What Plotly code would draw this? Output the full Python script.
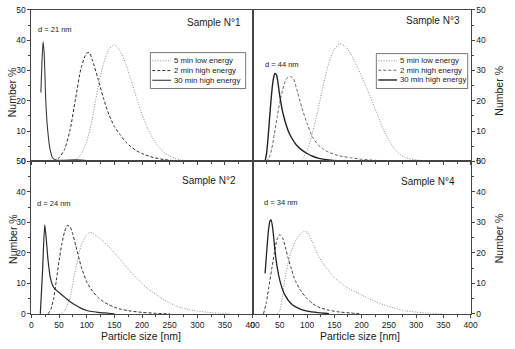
import plotly.graph_objects as go

# ---------------- data ----------------
# Sample N°1
s1_low_x = [70, 80, 90, 100, 110, 120, 130, 140, 150, 160, 170, 180, 190, 200, 210, 220, 230, 240, 250, 260, 270, 280, 300]
s1_low_y = [0, 0.5, 2.5, 6.5, 14, 24, 32, 37, 38.5, 36.5, 32.5, 27, 21, 15.5, 11, 7.5, 4.8, 3, 1.8, 1, 0.5, 0.2, 0]
s1_2min_x = [40, 50, 60, 70, 80, 90, 100, 105, 110, 120, 130, 140, 150, 160, 170, 180, 190, 200, 220, 240, 260, 280]
s1_2min_y = [0, 1.2, 4, 10.5, 21, 31, 35.8, 35.8, 33.5, 27.5, 21, 15.5, 11.5, 8.9, 6.5, 4.8, 3.5, 2.6, 1.3, 0.6, 0.2, 0]
s1_30min_x = [17, 19, 21, 23, 26, 29, 33, 38, 45, 60, 80, 100, 110]
s1_30min_y = [22.7, 33, 39.5, 35.5, 19.5, 11, 4.6, 1.2, 0.4, 0.4, 0.5, 0.3, 0]

# Sample N°3
s3_low_x = [80, 90, 100, 110, 120, 130, 140, 150, 160, 170, 180, 190, 200, 210, 220, 230, 240, 250, 260, 270, 280, 300, 320, 340]
s3_low_y = [0, 0.5, 3.5, 9.5, 17, 25.5, 32.5, 37, 38.8, 38, 35.5, 32, 28, 24, 19.5, 15, 10.5, 7, 4.2, 2.4, 1.3, 0.5, 0.2, 0]
s3_2min_x = [25, 30, 35, 40, 45, 50, 55, 60, 65, 70, 75, 80, 90, 100, 110, 120, 130, 140, 160, 180, 200, 220, 250]
s3_2min_y = [0, 1, 4, 9, 14.5, 19.5, 23.5, 26.5, 27.8, 28, 27.3, 24.5, 18, 12.5, 8, 5.5, 4, 3, 1.8, 1.2, 0.7, 0.4, 0.1]
s3_30min_x = [23, 26, 29, 32, 35, 38, 41, 44, 47, 50, 55, 60, 65, 70, 80, 90, 100, 110, 120, 140, 160, 180]
s3_30min_y = [0, 3, 9, 16, 22.5, 27, 29, 28.5, 25.5, 21.5, 16.5, 13, 10.3, 8.3, 5.5, 3.8, 2.6, 1.7, 1.1, 0.5, 0.2, 0]

# Sample N°2
s2_low_x = [50, 60, 70, 80, 90, 100, 105, 110, 120, 130, 140, 150, 160, 170, 180, 190, 200, 210, 220, 230, 240, 250, 260, 270, 280, 300, 320, 340, 360]
s2_low_y = [0, 1, 5.5, 15, 22.5, 26, 26.7, 26.5, 25.3, 23.8, 22, 20, 18, 15.8, 13.7, 11.8, 10, 8.3, 7, 5.8, 4.6, 3.6, 2.8, 2.1, 1.6, 0.9, 0.5, 0.2, 0]
s2_2min_x = [30, 35, 40, 45, 50, 55, 60, 65, 70, 75, 80, 90, 100, 110, 120, 130, 140, 150, 160, 180, 200, 225, 250]
s2_2min_y = [0, 1.5, 5, 11, 17.5, 23, 27, 29, 28.5, 26, 22.5, 15.5, 10.5, 7.5, 5.5, 4, 3, 2.2, 1.6, 0.9, 0.5, 0.2, 0]
s2_30min_x = [16, 20, 24, 27, 30, 34, 38, 42, 50, 60, 70, 80, 90, 100, 120, 140, 150]
s2_30min_y = [0, 14, 29.2, 24, 17.5, 12, 9.5, 8.3, 7, 5.5, 4, 2.8, 1.8, 1.1, 0.5, 0.2, 0]

# Sample N°4
s4_low_x = [45, 50, 55, 60, 70, 80, 90, 95, 100, 110, 120, 130, 140, 150, 160, 170, 180, 200, 220, 240, 260, 280, 300, 320, 350]
s4_low_y = [0, 1, 6, 12, 20, 24.3, 26.7, 27, 26.8, 23.5, 19.3, 16.3, 14, 12, 10.4, 9.1, 8, 6.2, 4.5, 3, 1.9, 1, 0.6, 0.3, 0]
s4_2min_x = [20, 25, 30, 35, 40, 45, 50, 55, 60, 65, 70, 75, 80, 90, 100, 110, 120, 140, 160, 180, 200]
s4_2min_y = [0, 3.5, 9, 14.5, 20, 24.5, 26, 25, 22, 18.5, 15.5, 12.5, 10.3, 7.2, 5, 3.4, 2.3, 1.2, 0.6, 0.3, 0]
s4_30min_x = [23, 26, 29, 32, 34, 37, 41, 45, 50, 55, 60, 70, 80, 90, 100, 120, 140]
s4_30min_y = [13.3, 20.5, 27, 30.5, 30.8, 28, 21, 15.5, 11, 8, 6, 3.5, 2.2, 1.4, 0.9, 0.4, 0.1]

series_names = ["5 min low energy", "2 min high energy", "30 min high energy"]
sample_labels = ["Sample N°1", "Sample N°3", "Sample N°2", "Sample N°4"]
d_labels = ["d = 21 nm", "d = 44 nm", "d = 24 nm", "d = 34 nm"]
x_ticks = [0, 50, 100, 150, 200, 250, 300, 350, 400]
y_ticks = [0, 10, 20, 30, 40, 50]

# ---------------- layout helpers ----------------
W, H = 515, 349
FONT = "Liberation Sans, Arial, sans-serif"
TXT = "#222222"


def fx(p):
    return p / W


def fy(p):
    return 1 - p / H


XL = [fx(30), fx(255)]
XR = [fx(255), fx(477)]
YT = [fy(161), fy(5)]
YB = [fy(318), fy(161)]

panels = [
    # (xaxis, yaxis, xdomain, ydomain, y side, show x labels, data, styles)
    ("x", "y", XL, YT, "left", False,
     [(s1_low_x, s1_low_y), (s1_2min_x, s1_2min_y), (s1_30min_x, s1_30min_y)],
     [("#8a8a8a", "1px,1.6px", 1.0), ("#2a2a2a", "3px,2px", 1.0), ("#3a3a3a", "solid", 1.1)]),
    ("x2", "y2", XR, YT, "right", False,
     [(s3_low_x, s3_low_y), (s3_2min_x, s3_2min_y), (s3_30min_x, s3_30min_y)],
     [("#8a8a8a", "1px,1.6px", 1.0), ("#666666", "3px,2px", 1.0), ("#222222", "solid", 1.4)]),
    ("x3", "y3", XL, YB, "left", True,
     [(s2_low_x, s2_low_y), (s2_2min_x, s2_2min_y), (s2_30min_x, s2_30min_y)],
     [("#8a8a8a", "1px,1.6px", 1.0), ("#2a2a2a", "3px,2px", 1.0), ("#2a2a2a", "solid", 1.2)]),
    ("x4", "y4", XR, YB, "right", True,
     [(s4_low_x, s4_low_y), (s4_2min_x, s4_2min_y), (s4_30min_x, s4_30min_y)],
     [("#8a8a8a", "1px,1.6px", 1.0), ("#3a3a3a", "3px,2px", 1.0), ("#222222", "solid", 1.3)]),
]

fig = go.Figure()
layout = dict(
    width=W, height=H,
    margin=dict(l=0, r=0, t=0, b=0),
    paper_bgcolor="white", plot_bgcolor="white",
    showlegend=False,
    font=dict(family=FONT, size=8, color=TXT),
)

for (xa, ya, xd, yd, side, xlab, data, styles) in panels:
    for (xs, ys), (col, dash, w), name in zip(data, styles, series_names):
        fig.add_trace(go.Scatter(
            x=xs, y=ys, mode="lines", name=name,
            line=dict(color=col, dash=dash, width=w, shape="spline", smoothing=0.6),
            xaxis=xa, yaxis=ya, hoverinfo="skip",
        ))
    xkey = "xaxis" + xa[1:]
    ykey = "yaxis" + ya[1:]
    layout[xkey] = dict(
        domain=xd, anchor=ya, range=[0, 400], tickvals=x_ticks,
        showticklabels=xlab, ticks="outside", ticklen=3, tickwidth=1, tickcolor="#444",
        minor=dict(dtick=25, tick0=0, ticks="outside", ticklen=2, tickcolor="#444"),
        showline=True, linecolor="#444", linewidth=1, mirror=True,
        showgrid=False, zeroline=False,
        tickfont=dict(size=8.5, color=TXT, family=FONT),
    )
    layout[ykey] = dict(
        domain=yd, anchor=xa, range=[0, 50], tickvals=y_ticks, side=side,
        ticks="outside", ticklen=3, tickwidth=1, tickcolor="#444",
        minor=dict(dtick=5, tick0=0, ticks="outside", ticklen=2, tickcolor="#444"),
        showline=True, linecolor="#444", linewidth=1, mirror=True,
        showgrid=False, zeroline=False,
        tickfont=dict(size=8.5, color=TXT, family=FONT),
    )

shapes = []
annotations = []

# sample labels and diameter notes
samp_pos = [(245, 18), (468, 16), (240, 181), (463, 182)]
d_pos = [(35, 25), (266, 61), (34, 204), (265, 203)]
for lab, (x, y) in zip(sample_labels, samp_pos):
    annotations.append(dict(text=lab, x=fx(x), y=fy(y), xref="paper", yref="paper",
                            xanchor="right", yanchor="middle", showarrow=False,
                            font=dict(size=10, color=TXT, family=FONT)))
for lab, (x, y) in zip(d_labels, d_pos):
    annotations.append(dict(text=lab, x=fx(x), y=fy(y), xref="paper", yref="paper",
                            xanchor="left", yanchor="middle", showarrow=False,
                            font=dict(size=7.5, color=TXT, family=FONT)))

# axis titles
for (x, y) in [(11, 90), (11, 241)]:
    annotations.append(dict(text="Number %", x=fx(x), y=fy(y), xref="paper", yref="paper",
                            textangle=-90, xanchor="center", yanchor="middle", showarrow=False,
                            font=dict(size=10.5, color=TXT, family=FONT)))
for (x, y) in [(506, 88), (506, 240)]:
    annotations.append(dict(text="Number %", x=fx(x), y=fy(y), xref="paper", yref="paper",
                            textangle=-90, xanchor="center", yanchor="middle", showarrow=False,
                            font=dict(size=10.5, color=TXT, family=FONT)))
for (x, y) in [(141, 341), (364, 341)]:
    annotations.append(dict(text="Particle size [nm]", x=fx(x), y=fy(y), xref="paper", yref="paper",
                            xanchor="center", yanchor="middle", showarrow=False,
                            font=dict(size=10.5, color=TXT, family=FONT)))

# hand-drawn legends (top panels)
legends = [
    dict(box=(151, 49, 248, 86), x0=153, x1=172, ys=[57.5, 67.5, 77.5], styles=panels[0][7]),
    dict(box=(381, 50, 474, 86), x0=383, x1=402, ys=[57.5, 67.2, 77.2], styles=panels[1][7]),
]
for lg in legends:
    bx0, by0, bx1, by1 = lg["box"]
    shapes.append(dict(type="rect", xref="paper", yref="paper",
                       x0=fx(bx0), x1=fx(bx1), y0=fy(by1), y1=fy(by0),
                       line=dict(color="#555", width=0.8), fillcolor="white", layer="above"))
    for name, yy, (col, dash, w) in zip(series_names, lg["ys"], lg["styles"]):
        shapes.append(dict(type="line", xref="paper", yref="paper",
                           x0=fx(lg["x0"]), x1=fx(lg["x1"]), y0=fy(yy), y1=fy(yy),
                           line=dict(color=col, dash=dash, width=w), layer="above"))
        annotations.append(dict(text=name, x=fx(lg["x1"] + 1.5), y=fy(yy), xref="paper", yref="paper",
                                xanchor="left", yanchor="middle", showarrow=False,
                                font=dict(size=7.8, color=TXT, family=FONT)))

layout["shapes"] = shapes
layout["annotations"] = annotations
fig.update_layout(**layout)
fig.write_html("out.html")
